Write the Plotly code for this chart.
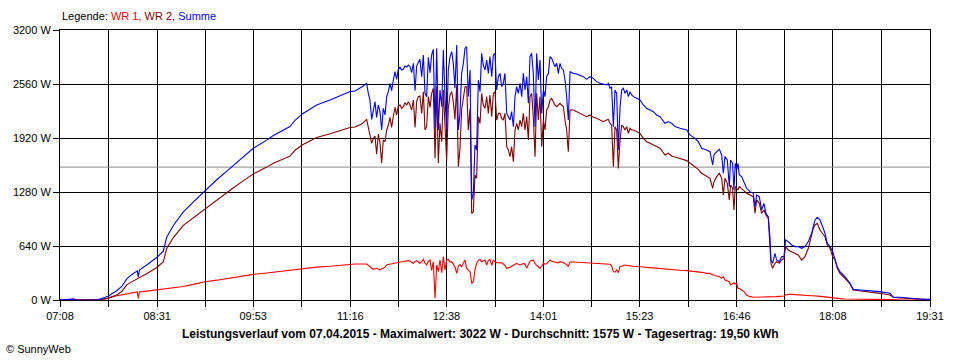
import plotly.graph_objects as go

# ---- data (minutes since midnight, watts) ----
time_min = [
    428.0, 440.0, 441.0, 458.0, 462.0, 466.0, 469.0, 473.0, 476.4, 480.7, 485.0, 489.2, 494.0, 494.9, 495.8,
    502.0, 510.6, 516.2, 519.1, 524.8, 533.3, 541.8, 552.1, 561.8, 573.2, 583.2, 593.1, 604.5, 610.2, 624.4,
    628.7, 635.2, 647.2, 658.6, 669.9, 675.7, 679.9,
    684.2, 685.6, 687.0, 688.5, 689.9, 691.3, 692.7, 694.2, 695.6, 697.0, 698.4, 699.9, 701.3, 702.7, 704.1,
    705.6, 707.0, 708.4, 709.8, 711.2, 712.7, 714.1, 715.5, 716.9, 718.4, 719.8, 721.2, 722.6, 724.1, 725.5,
    726.9, 728.3, 729.8, 731.2, 732.6, 734.0, 735.4, 736.9, 738.3, 739.7, 741.1, 742.6, 744.0, 745.4, 746.8,
    748.3, 749.7, 751.1, 752.5, 754.0, 755.4, 756.8, 758.2, 759.6, 761.1, 762.5, 763.9, 765.3, 766.8, 768.2,
    769.6, 771.0, 772.5, 773.9, 775.3, 776.7, 778.2, 779.6, 781.0, 782.4, 783.8, 785.3, 786.7, 788.1, 789.5,
    791.0, 792.4, 793.8, 795.2, 796.7, 798.1, 799.5, 800.9, 802.4, 803.8, 805.2, 806.6, 808.0, 809.5, 810.9,
    812.3, 813.7, 815.2, 816.6, 818.0, 819.4, 820.9, 822.3, 823.7, 825.1, 826.6, 828.0, 829.4, 830.8, 832.2,
    833.7, 835.1, 836.5, 837.9, 839.4, 840.8, 842.2, 843.6, 845.1, 846.5, 847.9, 849.3, 850.7, 852.2, 853.6,
    855.0, 856.4, 857.9, 859.3, 860.7, 862.1, 863.6, 866.4, 869.3, 872.1, 874.9, 877.8, 880.6, 883.5, 886.3,
    889.2, 892.0, 894.9, 896.3, 897.7, 899.1, 900.6, 902.0, 903.4, 904.8, 906.3, 907.7, 909.1, 910.5, 912.0,
    913.4, 914.8, 916.2, 917.7, 920.5, 923.3, 926.2, 929.0, 931.9, 934.7, 937.6,
    940.4, 944.7, 947.5, 950.3, 953.2, 957.5, 963.2, 966.0, 970.3, 973.1, 976.0, 980.2, 983.1, 985.4, 986.5,
    988.8, 991.1, 993.1, 994.5, 995.9, 997.9, 999.6, 1000.7, 1002.4, 1003.6, 1004.7, 1005.9, 1007.0, 1008.1,
    1010.1, 1012.1, 1014.4, 1017.3, 1020.1, 1021.5, 1023.0, 1025.2, 1027.2, 1029.2, 1030.9, 1032.9, 1034.3,
    1035.2, 1036.6, 1038.6, 1040.0, 1042.3, 1044.3, 1046.3, 1047.7, 1050.0, 1052.8, 1055.7, 1058.5, 1061.4,
    1064.2, 1067.1, 1069.9, 1071.3, 1072.8, 1074.8, 1077.0, 1079.3, 1081.3, 1083.3, 1085.6, 1087.9, 1089.9,
    1091.8, 1094.1, 1098.4, 1102.7, 1105.5, 1111.2, 1119.7, 1128.3, 1136.8, 1139.7, 1145.4, 1153.9, 1162.4,
    1171.0,
]

wr1 = [
    0, 0, 0, 0, 5, 10, 25, 40, 50, 60, 70, 85, 95, 20, 95,
    105, 118, 128, 133, 143, 160, 185, 217, 235, 260, 280, 304, 320, 330, 350,
    355, 368, 390, 400, 415, 425, 427,
    427, 427, 427, 427, 427, 410, 395, 380, 364, 370, 375, 363, 356, 370, 375,
    390, 415, 420, 425, 427, 430, 435, 443, 446, 450, 454, 456, 460, 462, 467,
    460, 445, 435, 455, 467, 450, 435, 455, 482, 440, 415, 460, 474, 350, 454,
    20, 415, 336, 474, 324, 514, 356, 470, 482, 450, 454, 420, 390, 316, 400,
    420, 395, 440, 474, 375, 360, 336, 198, 217, 356, 435, 470, 480, 454, 460,
    474, 415, 470, 482, 415, 474, 451, 443, 443, 443, 440, 427, 410, 375, 380,
    387, 400, 415, 420, 435, 425, 415, 420, 435, 425, 375, 420, 454, 470, 474,
    430, 415, 400, 375, 400, 435, 425, 430, 454, 474, 460, 454, 454, 445, 440,
    454, 451, 445, 430, 420, 395, 451, 451, 449, 447, 447, 445, 435, 435, 435,
    432, 430, 425, 425, 423, 403, 336, 330, 356, 324, 395, 400, 405, 415, 410,
    410, 405, 403, 400, 400, 395, 392, 387, 383, 380, 380,
    368, 364, 360, 356, 356, 352, 348, 344, 340, 336, 328, 316, 316, 297, 297,
    285, 277, 257, 277, 237, 229, 218, 178, 198, 206, 190, 198, 138, 138,
    119, 99, 59, 40, 32, 32, 32, 36, 36, 36, 40, 40, 40,
    40, 40, 40, 40, 43, 47, 47, 59, 67, 67, 63, 63, 63,
    59, 55, 51, 51, 51, 47, 43, 40, 36, 32, 28, 24, 20,
    16, 16, 12, 12, 12, 8, 8, 8, 4, 4, 0, 0, 0,
    0,
]

wr2 = [
    0, 10, 0, 0, 5, 15, 20, 40, 60, 100, 180, 215, 250, 255, 260,
    310, 385, 450, 610, 740, 885, 975, 1085, 1190, 1300, 1400, 1495, 1575, 1620, 1705,
    1775, 1840, 1925, 1970, 2015, 2045, 2050,
    2074, 2086, 2102, 2125, 2141, 2046, 1967, 1857, 1916, 1944, 1730, 1967, 1857, 1620, 1896,
    1876, 2015, 2074, 2165, 2046, 2181, 2283, 2193, 2299, 2311, 2272, 2291, 2339, 2311, 2351,
    2311, 2252, 2370, 2046, 2351, 2410, 2418, 2212, 2469, 2015, 2054, 2410, 2283, 2449, 2509,
    1679, 2528, 1620, 2094, 1876, 2489, 2015, 1651, 2272, 2430, 2469, 2351, 2141, 2548, 1580,
    1797, 2252, 2370, 2528, 2528, 2015, 2272, 1027, 1047, 1481, 1442, 2173, 2094, 2449, 2311,
    2272, 2410, 2212, 2430, 2173, 2449, 2469, 2133, 2212, 2212, 2153, 2133, 2212, 1817, 1778,
    1699, 1817, 1639, 2015, 2094, 2015, 2133, 2054, 2212, 2015, 2173, 1896, 2410, 2449, 2173,
    1699, 2449, 2133, 2410, 1817, 2133, 2015, 2252, 2291, 2370, 2390, 2351, 2311, 2291, 2311,
    2331, 2311, 2291, 2133, 2015, 1758, 2252, 2252, 2232, 2220, 2193, 2173, 2193, 2165, 2153,
    2133, 2114, 2133, 2141, 2094, 2074, 1580, 2054, 2015, 1560, 1896, 2074, 2054, 2015, 2054,
    1975, 2034, 2015, 2015, 1995, 1975, 1916, 1876, 1857, 1837, 1817,
    1798, 1719, 1739, 1707, 1691, 1676, 1652, 1620, 1573, 1549, 1502, 1462, 1442, 1324, 1403,
    1462, 1502, 1442, 1245, 1442, 1383, 1186, 1363, 1324, 1067, 1344, 1324, 1304, 1344,
    1324, 1296, 1265, 1245, 1225, 1028, 1186, 1146, 1028, 1067, 1008, 968, 712,
    435, 376, 435, 455, 435, 474, 494, 633, 593, 573, 553, 534, 474,
    514, 613, 771, 850, 889, 909, 830, 791, 751, 652, 613, 514, 474,
    376, 316, 257, 190, 119, 111, 99, 79, 59, 32, 24, 16, 8,
    4,
]

summe = [
    0, 10, 0, 0, 10, 25, 45, 80, 110, 160, 250, 300, 345, 275, 355,
    415, 503, 578, 743, 883, 1045, 1160, 1302, 1425, 1560, 1680, 1799, 1895, 1950, 2055,
    2130, 2208, 2310, 2370, 2430, 2470, 2477,
    2509, 2520, 2536, 2556, 2568, 2449, 2370, 2141, 2272, 2351, 2165, 2311, 2232, 2015, 2272,
    2193, 2410, 2469, 2568, 2481, 2607, 2706, 2615, 2734, 2758, 2726, 2734, 2773, 2758, 2785,
    2765, 2694, 2805, 2481, 2773, 2825, 2852, 2647, 2904, 2449, 2410, 2876, 2694, 2904, 2971,
    2034, 2983, 2015, 2489, 2291, 2963, 2410, 2015, 2726, 2884, 2943, 2805, 2509, 3022, 2015,
    2212, 2686, 2805, 2983, 3002, 2410, 2726, 1185, 1264, 1837, 1778, 2607, 2469, 2923, 2785,
    2726, 2844, 2686, 2884, 2647, 2904, 2923, 2489, 2647, 2686, 2528, 2568, 2686, 2212, 2173,
    2133, 2232, 2054, 2410, 2528, 2449, 2568, 2410, 2686, 2489, 2647, 2331, 2884, 2923, 2686,
    2054, 2923, 2607, 2844, 2212, 2489, 2410, 2647, 2686, 2884, 2864, 2805, 2765, 2805, 2686,
    2805, 2746, 2726, 2607, 2410, 2133, 2706, 2686, 2678, 2659, 2647, 2615, 2647, 2627, 2588,
    2568, 2560, 2548, 2568, 2509, 2528, 2054, 2489, 2449, 1778, 2291, 2489, 2509, 2449, 2489,
    2410, 2469, 2430, 2410, 2390, 2370, 2311, 2272, 2252, 2232, 2193,
    2173, 2094, 2114, 2094, 2055, 2035, 2015, 1956, 1916, 1877, 1798, 1778, 1758, 1600, 1719,
    1758, 1786, 1719, 1502, 1699, 1660, 1344, 1660, 1620, 1304, 1620, 1541, 1620, 1482,
    1462, 1403, 1324, 1284, 1265, 1107, 1245, 1225, 1067, 1146, 1028, 988, 751,
    474, 435, 553, 474, 455, 514, 514, 712, 692, 652, 633, 633, 613,
    633, 692, 791, 870, 949, 980, 949, 870, 791, 672, 633, 573, 494,
    395, 336, 277, 198, 126, 119, 111, 99, 79, 32, 32, 20, 12,
    8,
]

average_w = 1575
y_ticks = [0, 640, 1280, 1920, 2560, 3200]
y_tick_labels = ["0 W", "640 W", "1280 W", "1920 W", "2560 W", "3200 W"]
x_tick_labels = ["07:08", "08:31", "09:53", "11:16", "12:38", "14:01", "15:23", "16:46", "18:08", "19:31"]
title_text = ("Leistungsverlauf vom 07.04.2015 - Maximalwert: 3022 W - Durchschnitt: 1575 W - "
              "Tagesertrag: 19,50 kWh")

# ---- tick positions from labels (labelled ticks + midpoints for gridlines) ----
def to_min(s):
    h, m = s.split(":")
    return int(h) * 60 + int(m)

lab_pos = [to_min(s) for s in x_tick_labels]
xt_vals, xt_text = [], []
for i, p in enumerate(lab_pos):
    xt_vals.append(p)
    xt_text.append(x_tick_labels[i])
    if i < len(lab_pos) - 1:
        xt_vals.append((p + lab_pos[i + 1]) / 2)
        xt_text.append("")

fig = go.Figure()
fig.add_trace(go.Scatter(x=[lab_pos[0], lab_pos[-1]], y=[average_w, average_w], mode="lines",
                         line=dict(color="#8c8c8c", width=1), hoverinfo="skip", showlegend=False))
fig.add_trace(go.Scatter(x=time_min, y=wr1, mode="lines", name="WR 1",
                         line=dict(color="#ff0000", width=1.1)))
fig.add_trace(go.Scatter(x=time_min, y=wr2, mode="lines", name="WR 2",
                         line=dict(color="#800000", width=1.1)))
fig.add_trace(go.Scatter(x=time_min, y=summe, mode="lines", name="Summe",
                         line=dict(color="#0000ff", width=1.1)))

font_family = "Liberation Sans, Arial, sans-serif"
fig.update_layout(
    width=960, height=360,
    margin=dict(l=60, r=30, t=30, b=60),
    paper_bgcolor="white", plot_bgcolor="white",
    showlegend=False,
    font=dict(family=font_family, size=11, color="black"),
    xaxis=dict(range=[lab_pos[0], lab_pos[-1]], tickmode="array", tickvals=xt_vals, ticktext=xt_text,
               showgrid=True, gridcolor="black", gridwidth=1, showline=True, linecolor="black",
               linewidth=1, mirror=True, ticks="outside", ticklen=6, tickcolor="black",
               zeroline=False, tickfont=dict(size=11, family=font_family)),
    yaxis=dict(range=[0, 3200], tickmode="array", tickvals=y_ticks, ticktext=y_tick_labels,
               showgrid=True, gridcolor="black", gridwidth=1, showline=True, linecolor="black",
               linewidth=1, mirror=True, ticks="outside", ticklen=6, tickcolor="black",
               zeroline=False, tickfont=dict(size=11, family=font_family)),
    annotations=[
        dict(xref="paper", yref="paper", x=0, y=1.052, xanchor="left", yanchor="middle",
             showarrow=False, font=dict(size=11, family=font_family),
             text=("Legende: <span style='color:#ff0000'>WR 1,</span> "
                   "<span style='color:#800000'>WR 2,</span> "
                   "<span style='color:#0000ff'>Summe</span>")),
        dict(xref="paper", yref="paper", x=0.483, y=-0.126, xanchor="center", yanchor="middle",
             showarrow=False, font=dict(size=12, family=font_family),
             text="<b>" + title_text + "</b>"),
        dict(xref="paper", yref="paper", x=-0.064, y=-0.182, xanchor="left", yanchor="middle",
             showarrow=False, font=dict(size=11, family=font_family),
             text="© SunnyWeb"),
    ],
)

fig.write_html("out.html", config={"displayModeBar": False},
               post_script="document.body.style.margin='0';document.body.style.overflow='hidden';")
